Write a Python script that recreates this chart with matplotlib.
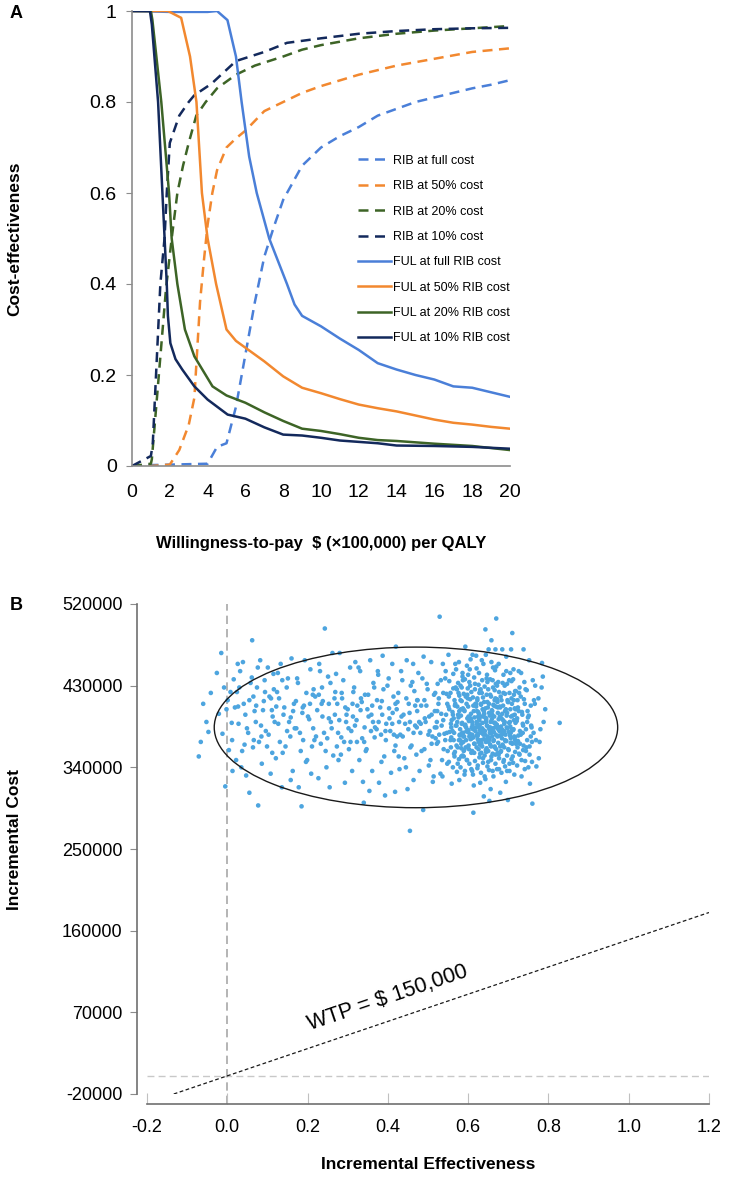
import numpy as np
import matplotlib.pyplot as plt
from matplotlib.patches import Ellipse

plt.rcParams['font.family'] = ['Liberation Sans', 'DejaVu Sans']

# ---- panel A: acceptability curves (WTP in $100,000, probability) ----
x_rib_full = [0, 1, 2, 3, 4, 4.5, 5, 5.5, 6, 6.5, 7, 7.5, 8, 9, 10, 11, 12, 13, 14, 15, 16, 17, 18, 19, 20]
y_rib_full = [0, 0.002, 0.003, 0.004, 0.005, 0.042, 0.05, 0.13, 0.245, 0.36, 0.46, 0.525, 0.585, 0.66, 0.70,
              0.725, 0.745, 0.77, 0.785, 0.80, 0.81, 0.82, 0.83, 0.838, 0.848]
x_rib_50 = [0, 1, 2, 2.5, 3, 3.3, 3.6, 3.8, 4, 4.25, 4.5, 5, 5.5, 6, 7, 8, 9, 10, 12, 14, 16, 18, 20]
y_rib_50 = [0, 0, 0.003, 0.035, 0.09, 0.15, 0.36, 0.45, 0.53, 0.6, 0.65, 0.70, 0.72, 0.737, 0.78, 0.80,
            0.82, 0.835, 0.86, 0.88, 0.895, 0.91, 0.918]
x_rib_20 = [0, 1, 1.05, 1.8, 2.1, 2.4, 2.7, 3.0, 3.4, 3.9, 4.5, 5.5, 6.5, 8, 9, 10, 12, 14, 16, 18, 20]
y_rib_20 = [0, 0.005, 0.015, 0.39, 0.5, 0.6, 0.66, 0.71, 0.77, 0.80, 0.83, 0.86, 0.88, 0.90, 0.915, 0.925,
            0.94, 0.95, 0.957, 0.962, 0.967]
x_rib_10 = [0, 1.0, 1.1, 1.5, 1.72, 1.84, 2.0, 2.5, 3.0, 3.3, 4.2, 5.5, 7, 8.2, 10, 12, 14, 16, 18, 20]
y_rib_10 = [0, 0.022, 0.05, 0.4, 0.5, 0.6, 0.71, 0.77, 0.80, 0.815, 0.84, 0.89, 0.91, 0.93, 0.94, 0.95,
            0.956, 0.96, 0.962, 0.963]
x_ful_full = [0, 2, 4, 4.5, 5.05, 5.5, 5.8, 6.2, 6.6, 7.26, 8.2, 8.6, 9, 10, 11, 12, 13, 14, 15, 16, 17, 18, 19, 20]
y_ful_full = [1, 0.998, 0.998, 1.0, 0.98, 0.9, 0.8, 0.68, 0.6, 0.5, 0.4, 0.355, 0.33, 0.307, 0.28, 0.255,
              0.226, 0.212, 0.2, 0.19, 0.175, 0.172, 0.162, 0.152]
x_ful_50 = [0, 1.9, 2.6, 3.07, 3.41, 3.7, 4.0, 4.45, 5, 5.5, 6, 7, 8, 9, 10, 11, 12, 13, 14, 15, 16, 17, 18, 19, 20]
y_ful_50 = [1, 1, 0.985, 0.9, 0.8, 0.6, 0.5, 0.4, 0.3, 0.275, 0.26, 0.23, 0.197, 0.172, 0.16, 0.147, 0.135,
            0.127, 0.12, 0.111, 0.102, 0.095, 0.091, 0.086, 0.082]
x_ful_20 = [0, 1.0, 1.08, 1.55, 1.96, 2.1, 2.4, 2.8, 3.3, 4.26, 5, 6, 7, 8, 9, 10, 11, 12, 13, 14, 16, 18, 20]
y_ful_20 = [1, 1, 0.98, 0.8, 0.6, 0.5, 0.4, 0.3, 0.241, 0.175, 0.155, 0.139, 0.118, 0.099, 0.082, 0.077,
            0.07, 0.062, 0.057, 0.055, 0.049, 0.044, 0.035]
x_ful_10 = [0, 0.95, 1.05, 1.38, 1.61, 1.84, 1.9, 2.03, 2.3, 2.66, 3.3, 4, 5.06, 6, 7, 8, 9, 10, 11, 12, 13,
            14, 16, 18, 20]
y_ful_10 = [1, 1, 0.97, 0.8, 0.6, 0.4, 0.33, 0.27, 0.235, 0.212, 0.175, 0.146, 0.113, 0.104, 0.085, 0.069,
            0.067, 0.062, 0.056, 0.053, 0.05, 0.045, 0.044, 0.042, 0.038]

labels_a = ['RIB at full cost', 'RIB at 50% cost', 'RIB at 20% cost', 'RIB at 10% cost',
            'FUL at full RIB cost', 'FUL at 50% RIB cost', 'FUL at 20% RIB cost', 'FUL at 10% RIB cost']
xticks_a = [0, 2, 4, 6, 8, 10, 12, 14, 16, 18, 20]
yticks_a = [0, 0.2, 0.4, 0.6, 0.8, 1]
yticklabels_a = ['0', '0.2', '0.4', '0.6', '0.8', '1']

# ---- panel B: incremental effectiveness (QALY), incremental cost ($1000) ----
cloud_left = [
    (-0.071, 352), (-0.066, 368), (-0.052, 390), (-0.060, 410), (-0.041, 422), (-0.047, 379),
    (-0.015, 466), (-0.008, 428), (-0.005, 319), (-0.021, 399), (0.001, 414), (0.011, 389), (-0.012, 377),
    (0.016, 437), (0.004, 359), (0.019, 406), (-0.026, 444), (0.013, 336), (0.008, 423), (-0.002, 404),
    (0.039, 456), (0.062, 480), (0.055, 312), (0.032, 446), (0.061, 439), (0.024, 423), (0.055, 414),
    (0.045, 398), (0.028, 388), (0.066, 370), (0.037, 358), (0.049, 383), (0.022, 348), (0.058, 433),
    (0.041, 410), (0.068, 402), (0.030, 428), (0.052, 378), (0.035, 340), (0.064, 362), (0.026, 454),
    (0.047, 331),
    (0.077, 298), (0.101, 450), (0.082, 458), (0.115, 443), (0.074, 428), (0.109, 416), (0.089, 403),
    (0.118, 390), (0.096, 380), (0.079, 368), (0.112, 356), (0.086, 344), (0.105, 418), (0.072, 408),
    (0.093, 436), (0.116, 426), (0.084, 386), (0.099, 363), (0.108, 333), (0.076, 450), (0.113, 396),
    (0.091, 413),
    (0.160, 460), (0.133, 454), (0.151, 438), (0.124, 423), (0.166, 410), (0.140, 398), (0.127, 388),
    (0.157, 374), (0.145, 363), (0.121, 350), (0.163, 336), (0.136, 318), (0.148, 428), (0.129, 416),
    (0.168, 383), (0.142, 406), (0.154, 390), (0.131, 368), (0.126, 444), (0.158, 326), (0.138, 356),
    (0.164, 402),
    (0.185, 297), (0.207, 448), (0.176, 433), (0.213, 420), (0.191, 408), (0.201, 396), (0.172, 383),
    (0.217, 370), (0.183, 358), (0.196, 346), (0.209, 333), (0.178, 318), (0.219, 418), (0.188, 406),
    (0.204, 393), (0.174, 438), (0.211, 363), (0.193, 458), (0.181, 378), (0.199, 348), (0.215, 426),
    (0.187, 400),
]
cloud_mid = [
    (0.243, 493), (0.262, 466), (0.229, 454), (0.251, 440), (0.236, 428), (0.267, 416), (0.224, 403),
    (0.258, 390), (0.241, 378), (0.233, 366), (0.264, 353), (0.247, 340), (0.227, 328), (0.255, 318),
    (0.238, 413), (0.269, 423), (0.231, 446), (0.253, 394), (0.221, 374), (0.260, 383), (0.245, 358),
    (0.235, 410),
    (0.280, 466), (0.306, 450), (0.289, 436), (0.314, 423), (0.274, 410), (0.297, 398), (0.318, 386),
    (0.284, 373), (0.303, 360), (0.277, 348), (0.311, 336), (0.293, 323), (0.271, 443), (0.316, 428),
    (0.286, 416), (0.300, 404), (0.279, 392), (0.309, 380), (0.291, 368), (0.319, 456), (0.283, 354),
    (0.296, 390), (0.312, 410), (0.273, 363),
    (0.340, 301), (0.356, 458), (0.331, 446), (0.364, 433), (0.343, 420), (0.324, 408), (0.352, 396),
    (0.368, 384), (0.336, 372), (0.347, 360), (0.329, 348), (0.361, 336), (0.338, 324), (0.354, 314),
    (0.366, 428), (0.333, 416), (0.349, 404), (0.322, 392), (0.358, 380), (0.341, 368), (0.327, 450),
    (0.363, 390), (0.345, 358), (0.335, 412),
    (0.393, 309), (0.418, 313), (0.387, 463), (0.411, 454), (0.376, 442), (0.399, 430), (0.414, 418),
    (0.381, 406), (0.404, 394), (0.372, 382), (0.395, 370), (0.416, 358), (0.384, 346), (0.408, 334),
    (0.378, 323), (0.402, 438), (0.389, 426), (0.373, 414), (0.412, 400), (0.396, 388), (0.383, 376),
    (0.419, 364), (0.391, 352), (0.375, 446), (0.406, 380), (0.386, 398),
    (0.420, 473), (0.447, 458), (0.433, 446), (0.461, 434), (0.426, 422), (0.452, 410), (0.439, 398),
    (0.468, 386), (0.423, 374), (0.456, 362), (0.441, 350), (0.429, 338), (0.464, 326), (0.449, 316),
    (0.436, 436), (0.466, 424), (0.424, 412), (0.454, 400), (0.443, 388), (0.431, 376), (0.459, 364),
    (0.427, 352), (0.445, 340), (0.463, 454), (0.434, 396), (0.451, 382), (0.422, 404), (0.457, 430),
    (0.488, 293), (0.508, 456), (0.476, 444), (0.497, 432), (0.515, 420), (0.483, 408), (0.503, 396),
    (0.472, 384), (0.519, 372), (0.491, 360), (0.506, 348), (0.479, 336), (0.512, 324), (0.486, 438),
    (0.499, 426), (0.474, 414), (0.517, 402), (0.494, 390), (0.481, 378), (0.509, 366), (0.471, 354),
    (0.502, 342), (0.514, 330), (0.489, 462), (0.478, 390), (0.511, 374), (0.496, 408), (0.484, 358),
    (0.504, 380), (0.518, 422), (0.492, 394), (0.473, 414),
    (0.529, 506), (0.551, 464), (0.537, 454), (0.563, 443), (0.524, 432), (0.546, 421), (0.568, 410),
    (0.533, 399), (0.557, 388), (0.541, 377), (0.522, 366), (0.565, 355), (0.548, 344), (0.531, 333),
    (0.559, 322), (0.543, 438), (0.569, 428), (0.527, 416), (0.553, 404), (0.538, 392), (0.561, 380),
    (0.525, 368), (0.549, 358), (0.535, 348), (0.567, 408), (0.545, 398), (0.521, 384), (0.556, 370),
    (0.539, 360), (0.564, 394), (0.528, 376), (0.552, 418), (0.544, 446), (0.532, 436), (0.566, 352),
    (0.536, 330), (0.558, 384), (0.523, 402), (0.547, 378), (0.562, 398),
    (0.012, 370), (0.027, 407), (0.043, 365), (0.071, 390), (0.094, 423), (0.103, 376), (0.122, 407),
    (0.137, 436), (0.149, 380), (0.171, 413), (0.189, 370), (0.206, 410), (0.214, 383), (0.228, 420),
    (0.237, 396), (0.249, 372), (0.257, 433), (0.268, 398), (0.276, 378), (0.285, 422), (0.294, 406),
    (0.302, 383), (0.313, 396), (0.323, 368), (0.332, 403), (0.342, 384), (0.351, 420), (0.359, 398),
    (0.367, 373), (0.377, 390), (0.385, 413), (0.394, 380), (0.403, 405), (0.411, 388), (0.419, 410),
    (0.428, 390), (0.437, 374), (0.446, 416), (0.455, 390), (0.464, 378), (0.473, 402), (0.482, 388),
    (0.491, 414), (0.501, 376), (0.509, 398), (0.517, 384), (0.526, 410), (0.534, 386), (0.543, 370),
    (0.548, 410), (0.065, 418), (0.085, 374), (0.111, 403), (0.158, 395), (0.197, 422), (0.253, 410),
    (0.307, 368), (0.361, 408), (0.415, 376), (0.468, 408), (0.522, 390), (0.538, 422), (0.455, 270),
]
cloud_core = [
    (0.593, 473), (0.611, 464), (0.577, 456), (0.604, 448), (0.586, 440), (0.617, 432), (0.572, 426),
    (0.598, 420), (0.581, 414), (0.613, 408), (0.590, 403), (0.575, 398), (0.607, 393), (0.584, 388),
    (0.619, 384), (0.596, 380), (0.579, 376), (0.609, 372), (0.588, 368), (0.571, 364), (0.602, 360),
    (0.615, 356), (0.583, 352), (0.597, 348), (0.574, 344), (0.608, 338), (0.591, 332), (0.578, 326),
    (0.614, 320), (0.613, 290), (0.587, 436), (0.605, 430), (0.576, 422), (0.599, 416), (0.618, 410),
    (0.582, 404), (0.601, 396), (0.573, 390), (0.592, 386), (0.612, 382), (0.585, 378), (0.603, 374),
    (0.580, 370), (0.616, 366), (0.594, 362), (0.589, 358), (0.606, 394), (0.578, 402), (0.610, 390),
    (0.595, 384), (0.620, 410), (0.584, 428), (0.600, 442), (0.610, 336), (0.589, 352),
    (0.643, 492), (0.658, 480), (0.620, 463), (0.651, 470), (0.634, 458), (0.662, 450), (0.627, 444),
    (0.646, 438), (0.669, 432), (0.631, 426), (0.655, 420), (0.623, 416), (0.640, 412), (0.664, 408),
    (0.636, 404), (0.652, 400), (0.625, 396), (0.659, 393), (0.644, 390), (0.629, 387), (0.667, 384),
    (0.638, 381), (0.654, 378), (0.621, 375), (0.648, 372), (0.663, 369), (0.633, 366), (0.657, 363),
    (0.626, 360), (0.645, 357), (0.668, 354), (0.637, 350), (0.650, 346), (0.624, 342), (0.661, 336),
    (0.641, 330), (0.630, 323), (0.656, 316), (0.639, 308), (0.653, 303), (0.666, 414), (0.632, 410),
    (0.649, 406), (0.622, 402), (0.660, 398), (0.642, 395), (0.628, 392), (0.665, 389), (0.647, 386),
    (0.635, 383), (0.656, 380), (0.624, 377), (0.660, 374), (0.639, 371), (0.651, 368), (0.629, 365),
    (0.666, 362), (0.644, 359), (0.633, 356), (0.658, 352), (0.627, 399), (0.645, 394), (0.662, 428),
    (0.634, 422), (0.648, 434), (0.621, 390), (0.655, 384), (0.669, 407), (0.637, 378), (0.652, 372),
    (0.670, 504), (0.685, 470), (0.668, 470), (0.707, 470), (0.710, 488), (0.695, 462), (0.676, 454),
    (0.713, 448), (0.688, 442), (0.702, 436), (0.672, 430), (0.717, 424), (0.681, 418), (0.698, 414),
    (0.709, 410), (0.674, 406), (0.692, 402), (0.716, 398), (0.683, 394), (0.704, 390), (0.671, 387),
    (0.696, 384), (0.712, 381), (0.686, 378), (0.678, 375), (0.706, 372), (0.693, 369), (0.719, 366),
    (0.680, 363), (0.700, 360), (0.674, 356), (0.711, 352), (0.689, 348), (0.703, 344), (0.677, 338),
    (0.715, 332), (0.694, 324), (0.680, 312), (0.699, 304), (0.708, 416), (0.673, 412), (0.687, 408),
    (0.718, 404), (0.697, 400), (0.679, 396), (0.714, 392), (0.690, 388), (0.705, 385), (0.675, 382),
    (0.701, 379), (0.684, 376), (0.716, 373), (0.692, 370), (0.709, 367), (0.682, 358), (0.691, 430),
    (0.705, 444), (0.676, 354), (0.714, 420), (0.697, 336),
    (0.738, 470), (0.752, 458), (0.726, 446), (0.761, 436), (0.743, 426), (0.731, 418), (0.766, 410),
    (0.748, 402), (0.722, 394), (0.757, 386), (0.736, 378), (0.769, 370), (0.745, 362), (0.728, 354),
    (0.759, 346), (0.741, 338), (0.733, 330), (0.754, 322), (0.760, 300), (0.750, 340), (0.770, 341),
    (0.764, 414), (0.724, 406), (0.747, 390), (0.735, 398), (0.756, 374), (0.729, 366), (0.767, 430),
    (0.740, 434), (0.727, 422), (0.763, 378), (0.744, 358), (0.723, 362), (0.753, 354), (0.737, 386),
]
cloud_dense = [
    (0.581, 340), (0.586, 353), (0.583, 366), (0.588, 374), (0.580, 382), (0.585, 389), (0.582, 397),
    (0.587, 405), (0.584, 413), (0.589, 421), (0.581, 430), (0.586, 444), (0.583, 361), (0.588, 378),
    (0.592, 336), (0.597, 348), (0.590, 359), (0.595, 370), (0.599, 379), (0.593, 387), (0.598, 394),
    (0.591, 402), (0.596, 410), (0.594, 418), (0.599, 427), (0.592, 437), (0.597, 452), (0.590, 374),
    (0.603, 344), (0.608, 356), (0.601, 364), (0.606, 371), (0.604, 377), (0.609, 384), (0.602, 391),
    (0.607, 399), (0.600, 407), (0.605, 415), (0.608, 423), (0.603, 434), (0.606, 459), (0.601, 381),
    (0.612, 332), (0.617, 347), (0.610, 358), (0.615, 366), (0.613, 373), (0.618, 380), (0.611, 387),
    (0.616, 395), (0.614, 402), (0.619, 409), (0.612, 417), (0.617, 426), (0.615, 439), (0.610, 376),
    (0.623, 339), (0.628, 351), (0.621, 362), (0.626, 368), (0.624, 375), (0.629, 381), (0.622, 388),
    (0.627, 394), (0.625, 401), (0.620, 407), (0.623, 414), (0.628, 422), (0.626, 431), (0.621, 449),
    (0.627, 384), (0.624, 371),
    (0.632, 334), (0.637, 345), (0.630, 355), (0.635, 363), (0.633, 370), (0.638, 376), (0.631, 382),
    (0.636, 389), (0.634, 396), (0.639, 402), (0.632, 409), (0.637, 417), (0.630, 425), (0.635, 436),
    (0.638, 454), (0.633, 378),
    (0.643, 327), (0.648, 341), (0.641, 353), (0.646, 361), (0.644, 368), (0.649, 374), (0.642, 380),
    (0.647, 386), (0.645, 392), (0.640, 399), (0.643, 405), (0.648, 412), (0.646, 420), (0.641, 429),
    (0.647, 442), (0.644, 464), (0.642, 376),
    (0.652, 337), (0.657, 348), (0.650, 358), (0.655, 365), (0.653, 371), (0.658, 378), (0.651, 384),
    (0.656, 390), (0.654, 397), (0.659, 403), (0.652, 410), (0.657, 418), (0.650, 426), (0.655, 437),
    (0.658, 456), (0.653, 382),
    (0.663, 330), (0.668, 344), (0.661, 355), (0.666, 363), (0.664, 370), (0.669, 376), (0.662, 383),
    (0.667, 389), (0.665, 396), (0.660, 402), (0.663, 409), (0.668, 416), (0.666, 425), (0.661, 436),
    (0.667, 447), (0.664, 379),
    (0.672, 338), (0.677, 350), (0.670, 360), (0.675, 367), (0.673, 374), (0.678, 380), (0.671, 387),
    (0.676, 393), (0.674, 400), (0.679, 407), (0.672, 415), (0.677, 423), (0.675, 434), (0.670, 451),
    (0.678, 384),
    (0.683, 334), (0.688, 346), (0.681, 357), (0.686, 365), (0.684, 372), (0.689, 379), (0.682, 385),
    (0.687, 392), (0.685, 399), (0.680, 406), (0.683, 414), (0.688, 422), (0.686, 433), (0.684, 382),
    (0.692, 341), (0.697, 353), (0.690, 362), (0.695, 369), (0.693, 376), (0.698, 383), (0.691, 390),
    (0.696, 397), (0.694, 404), (0.699, 412), (0.692, 421), (0.697, 432), (0.695, 446), (0.690, 380),
    (0.703, 336), (0.708, 349), (0.701, 359), (0.706, 367), (0.704, 375), (0.709, 382), (0.702, 389),
    (0.707, 396), (0.705, 404), (0.700, 412), (0.703, 422), (0.708, 435), (0.706, 378),
    (0.712, 345), (0.717, 357), (0.710, 366), (0.715, 374), (0.713, 382), (0.718, 389), (0.711, 397),
    (0.716, 405), (0.714, 414), (0.719, 424), (0.712, 437), (0.717, 370),
    (0.722, 342), (0.727, 355), (0.724, 369), (0.729, 380), (0.721, 391), (0.726, 402), (0.723, 414),
    (0.728, 428), (0.725, 375),
    (0.733, 348), (0.738, 364), (0.731, 376), (0.736, 388), (0.734, 401), (0.739, 415), (0.732, 444),
    (0.737, 359),
    (0.742, 347), (0.747, 370), (0.744, 382), (0.749, 395), (0.741, 410), (0.746, 425),
    (0.753, 363), (0.758, 384), (0.751, 397), (0.756, 408), (0.759, 368),
    (0.552, 346), (0.557, 362), (0.554, 379), (0.559, 392), (0.551, 407), (0.556, 422), (0.553, 435),
    (0.558, 373),
    (0.562, 340), (0.567, 357), (0.564, 370), (0.569, 386), (0.561, 401), (0.566, 414), (0.563, 427),
    (0.568, 454), (0.565, 378),
    (0.572, 335), (0.577, 349), (0.574, 362), (0.579, 375), (0.571, 386), (0.576, 395), (0.573, 407),
    (0.578, 419), (0.575, 433), (0.570, 448), (0.577, 370),
]
cloud_tail = [
    (0.784, 455), (0.786, 440), (0.828, 389), (0.775, 416), (0.780, 382), (0.792, 404), (0.778, 368),
    (0.783, 428), (0.776, 350), (0.788, 390),
]

ellipse_center = (0.47, 384000)
ellipse_width = 1.005
ellipse_height = 177000
wtp_threshold = 150000
xticks_b = [-0.2, 0.0, 0.2, 0.4, 0.6, 0.8, 1.0, 1.2]
yticks_b = [-20000, 70000, 160000, 250000, 340000, 430000, 520000]

C_BLUE = '#4a7fd8'
C_ORANGE = '#f2882f'
C_GREEN = '#3d6426'
C_NAVY = '#13295c'
DASH = (4, 2.6)

fig = plt.figure(figsize=(7.34, 11.8), dpi=100)

# ------------------------------ panel A ------------------------------
axA = fig.add_axes([132 / 734, 1 - 466 / 1180, (510 - 132) / 734, (466 - 11) / 1180])
series = [
    (x_rib_full, y_rib_full, C_BLUE, True),
    (x_rib_50, y_rib_50, C_ORANGE, True),
    (x_rib_20, y_rib_20, C_GREEN, True),
    (x_rib_10, y_rib_10, C_NAVY, True),
    (x_ful_full, y_ful_full, C_BLUE, False),
    (x_ful_50, y_ful_50, C_ORANGE, False),
    (x_ful_20, y_ful_20, C_GREEN, False),
    (x_ful_10, y_ful_10, C_NAVY, False),
]
for (xs, ys, col, dashed), lab in zip(series, labels_a):
    if dashed:
        axA.plot(xs, ys, color=col, lw=1.8, dashes=DASH, label=lab, solid_joinstyle='round')
    else:
        axA.plot(xs, ys, color=col, lw=1.8, label=lab, solid_joinstyle='round')

axA.set_xlim(0, 20)
axA.set_ylim(0, 1)
axA.set_xticks(xticks_a)
axA.set_xticklabels([str(t) for t in xticks_a])
axA.set_yticks(yticks_a)
axA.set_yticklabels(yticklabels_a)
for s in ['top', 'right']:
    axA.spines[s].set_visible(False)
for s in ['left', 'bottom']:
    axA.spines[s].set_color('#8c8c8c')
    axA.spines[s].set_linewidth(1.2)
axA.tick_params(axis='y', length=4, color='#8c8c8c', labelsize=14, pad=7)
axA.tick_params(axis='x', length=0, labelsize=14, pad=13)
axA.set_xlabel('Willingness-to-pay  $ (×100,000) per QALY', fontsize=12, fontweight='bold', labelpad=25)
axA.set_ylabel('Cost-effectiveness', fontsize=12.5, fontweight='bold')
axA.yaxis.set_label_coords(-0.29, 0.5)
leg = axA.legend(loc='upper left', bbox_to_anchor=(0.585, 0.695), frameon=False, fontsize=9,
                 handlelength=2.6, handletextpad=0.15, labelspacing=1.07, borderaxespad=0)
fig.text(10 / 734, 1 - 14 / 1180, 'A', fontsize=13, fontweight='bold', va='center')

# ------------------------------ panel B ------------------------------
axB = fig.add_axes([147 / 734, 1 - 1094 / 1180, (709 - 147) / 734, (1094 - 604) / 1180])
pts = cloud_left + cloud_mid + cloud_core + cloud_dense + cloud_tail
eff = np.array([p[0] for p in pts])
cost = np.array([p[1] for p in pts]) * 1000
axB.scatter(eff, cost, s=11, color='#4da5df', edgecolors='none', zorder=3)

axB.add_patch(Ellipse(ellipse_center, ellipse_width, ellipse_height, fill=False, ec='#1a1a1a', lw=1.0,
                      zorder=4))
axB.axhline(0, color='#c8c8c8', lw=1.0, dashes=(5, 3), zorder=1)
axB.plot([0, 0], [-31000, 520000], color='#a8a8a8', lw=1.2, dashes=(5, 3), zorder=1, clip_on=False)

wx = np.array([-20000 / wtp_threshold, 1.2])
axB.plot(wx, wtp_threshold * wx, color='#1a1a1a', lw=0.9, dashes=(3, 2), zorder=2)

axB.set_xlim(-0.2, 1.2)
axB.set_ylim(-20000, 520000)
ang = axB.transData.transform_angles(np.array([np.degrees(np.arctan(wtp_threshold))]),
                                     np.array([[0.4, 60000]]))[0]
axB.text(0.40, 86000, 'WTP = $ 150,000', rotation=ang, rotation_mode='anchor', ha='center',
         va='center', fontsize=15.5)

axB.set_xticks(xticks_b)
axB.set_xticklabels(['%.1f' % t for t in xticks_b])
axB.set_yticks(yticks_b)
axB.set_yticklabels([str(t) for t in yticks_b])
for s in ['top', 'right']:
    axB.spines[s].set_visible(False)
axB.spines['left'].set_position(('outward', 7.5))
axB.spines['bottom'].set_position(('outward', 7.5))
for s in ['left', 'bottom']:
    axB.spines[s].set_color('#707070')
    axB.spines[s].set_linewidth(1.2)
axB.tick_params(axis='y', direction='out', length=5, color='#8c8c8c', labelsize=13, pad=5)
axB.tick_params(axis='x', direction='in', length=8, color='#c0c0c0', labelsize=13, pad=10.5)
axB.set_xlabel('Incremental Effectiveness', fontsize=12.5, fontweight='bold', labelpad=15)
axB.set_ylabel('Incremental Cost', fontsize=12.5, fontweight='bold')
axB.yaxis.set_label_coords(-0.222, 0.52)
fig.text(10 / 734, 1 - 606 / 1180, 'B', fontsize=13, fontweight='bold', va='center')

fig.savefig('out.png', dpi=100)
